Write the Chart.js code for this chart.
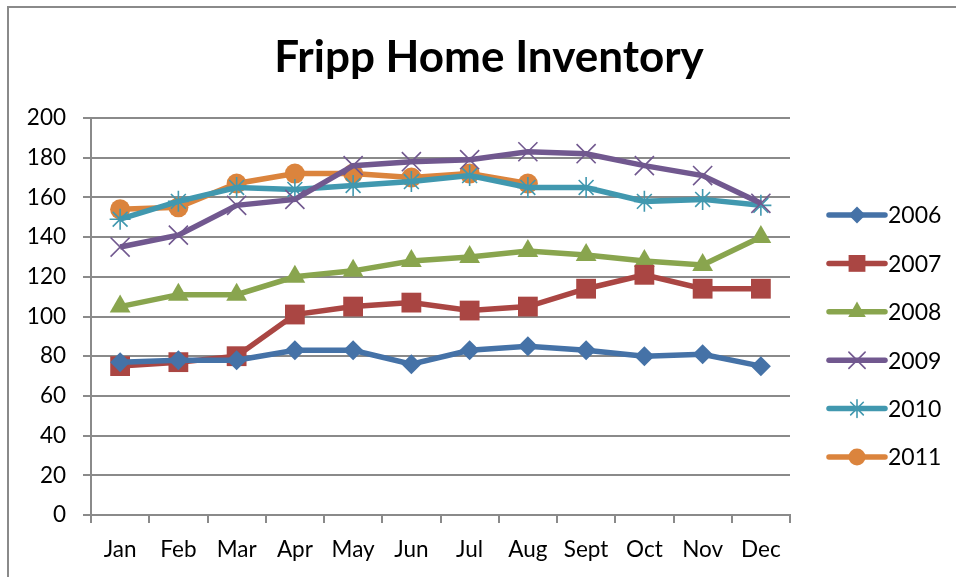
<!DOCTYPE html>
<html>
<head>
<meta charset="utf-8">
<script src="https://cdn.jsdelivr.net/npm/chart.js@4"></script>
<style>
  html, body { margin: 0; padding: 0; background: #ffffff; overflow: hidden; }
  #wrap { position: relative; width: 956px; height: 577px; }
  #frame { position: absolute; left: 7px; top: 6px; width: 2000px; height: 2000px; border: 2px solid #8a8a8a; box-sizing: border-box; }
  #c { position: absolute; left: 0; top: 0; }
</style>
</head>
<body>
<div id="wrap">
  <div id="frame"></div>
  <canvas id="c" width="956" height="577"></canvas>
</div>
<script>
const titleText = 'Fripp Home Inventory';
const months = ['Jan','Feb','Mar','Apr','May','Jun','Jul','Aug','Sept','Oct','Nov','Dec'];
const seriesNames = ['2006','2007','2008','2009','2010','2011'];
const y2006 = [77, 78, 78, 83, 83, 76, 83, 85, 83, 80, 81, 75];
const y2007 = [75, 77, 80, 101, 105, 107, 103, 105, 114, 121, 114, 114];
const y2008 = [105, 111, 111, 120, 123, 128, 130, 133, 131, 128, 126, 140];
const y2009 = [135, 141, 156, 159, 176, 178, 179, 183, 182, 176, 171, 157];
const y2010 = [149, 158, 165, 164, 166, 168, 171, 165, 165, 158, 159, 156];
const y2011 = [154, 155, 167, 172, 172, 170, 172, 167, null, null, null, null];
const yTicks = [0, 20, 40, 60, 80, 100, 120, 140, 160, 180, 200];

const colors = ['#4572A7', '#AA4643', '#89A54E', '#71588F', '#4198AF', '#DB843D'];
const styles = ['rectRot', 'rect', 'triangle', 'crossRot', 'star', 'circle'];
const radii = [10, 14, 12, 13.5, 10.5, 10];
const values = [y2006, y2007, y2008, y2009, y2010, y2011];

const FONT = 'Lato, "Open Sans", sans-serif';
const GRID = '#8a8a8a';

const datasets = seriesNames.map((n, i) => {
  const stroke = styles[i] === 'crossRot' || styles[i] === 'star';
  return {
    label: n,
    data: values[i],
    borderColor: colors[i],
    backgroundColor: colors[i],
    borderWidth: 5.5,
    pointStyle: styles[i],
    pointRadius: radii[i],
    pointHoverRadius: radii[i],
    pointBorderWidth: stroke ? 1.6 : 0,
    pointBackgroundColor: colors[i],
    pointBorderColor: colors[i],
    tension: 0,
    spanGaps: false,
    fill: false
  };
});

const overlay = {
  id: 'overlay',
  afterDraw(chart) {
    const ctx = chart.ctx;
    ctx.save();
    // title
    ctx.fillStyle = '#000';
    ctx.font = 'bold 44px ' + FONT;
    ctx.textAlign = 'center';
    ctx.textBaseline = 'alphabetic';
    ctx.fillText(titleText, 489, 72);
    // legend
    const x0 = 829, x1 = 885, tx = 888;
    chart.data.datasets.forEach((ds, i) => {
      const y = 215 + i * 48.4;
      ctx.strokeStyle = ds.borderColor;
      ctx.lineWidth = 5.5;
      ctx.lineCap = 'round';
      ctx.beginPath();
      ctx.moveTo(x0, y);
      ctx.lineTo(x1, y);
      ctx.stroke();
      ctx.fillStyle = ds.backgroundColor;
      ctx.strokeStyle = ds.borderColor;
      ctx.lineWidth = ds.pointBorderWidth || 0.001;
      Chart.helpers.drawPoint(ctx, {
        pointStyle: ds.pointStyle,
        rotation: 0,
        radius: radii[i] * 0.85,
        borderWidth: ds.pointBorderWidth
      }, (x0 + x1) / 2, y);
      ctx.fillStyle = '#000';
      ctx.font = '23px ' + FONT;
      ctx.textAlign = 'left';
      ctx.textBaseline = 'middle';
      ctx.fillText(ds.label, tx, y + 1);
    });
    ctx.restore();
  }
};

new Chart(document.getElementById('c'), {
  type: 'line',
  data: { labels: months, datasets: datasets },
  options: {
    responsive: false,
    animation: false,
    devicePixelRatio: 1,
    layout: { padding: { top: 118, right: 166, left: 0, bottom: 0 } },
    plugins: {
      legend: { display: false },
      title: { display: false },
      tooltip: { enabled: false }
    },
    scales: {
      x: {
        type: 'category',
        offset: true,
        grid: {
          display: true,
          offset: true,
          drawOnChartArea: false,
          drawTicks: true,
          tickLength: 8,
          color: GRID,
          lineWidth: 2
        },
        border: { display: true, color: GRID, width: 2 },
        ticks: {
          color: '#000',
          font: { family: FONT, size: 22.5 },
          padding: 13,
          maxRotation: 0,
          autoSkip: false
        },
        afterFit(scale) { scale.height = 62; }
      },
      y: {
        min: 0,
        max: 200,
        afterBuildTicks(scale) { scale.ticks = yTicks.map(v => ({ value: v })); },
        grid: {
          display: true,
          drawOnChartArea: true,
          drawTicks: true,
          tickLength: 8,
          color: GRID,
          lineWidth: 2
        },
        border: { display: true, color: GRID, width: 2 },
        ticks: {
          color: '#000',
          font: { family: FONT, size: 22.5 },
          padding: 17
        },
        afterFit(scale) { scale.width = 91; }
      }
    }
  },
  plugins: [overlay]
});
</script>
</body>
</html>
